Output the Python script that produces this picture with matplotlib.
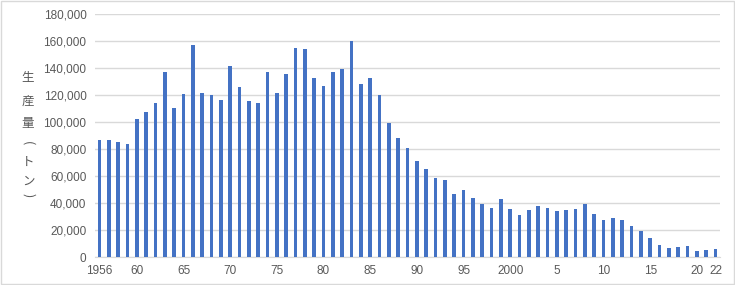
import matplotlib.pyplot as plt
from matplotlib import ticker
from matplotlib.patches import Rectangle

years = list(range(1956, 2023))
production = [
    87000, 87000, 85200, 83700, 102200, 107400, 114100, 137000, 110400, 120700,
    157000, 121500, 120000, 116300, 141500, 125900, 115600, 114100, 137000, 121500,
    135600, 154800, 154100, 132600, 126700, 137000, 139300, 160000, 128100, 132600,
    120000, 99300, 88100, 80700, 71100, 65200, 58500, 57000, 46700, 49600,
    43700, 39300, 36300, 43000, 35600, 31100, 34800, 37800, 36300, 34100,
    34800, 35600, 39300, 31900, 27400, 28900, 27400, 23000, 19300, 14100,
    8900, 6700, 7400, 8100, 4400, 5200, 5900,
]
tick_years = [1956, 1960, 1965, 1970, 1975, 1980, 1985, 1990, 1995, 2000,
              2005, 2010, 2015, 2020, 2022]
tick_labels = ["1956", "60", "65", "70", "75", "80", "85", "90", "95", "2000",
               "5", "10", "15", "20", "22"]
ylabel_chars = ["生", "産", "量", "(", "ト", "ン", ")"]

plt.rcParams['font.family'] = ['Liberation Sans', 'Noto Sans CJK JP', 'DejaVu Sans']

fig = plt.figure(figsize=(7.35, 2.85), dpi=100)
ax = fig.add_axes([0.129, 0.098, 0.851, 0.853])

ax.bar(years, production, width=0.4, color='#4472C4', zorder=3)

ax.set_xlim(1955.5, 2022.5)
ax.set_ylim(0, 180000)
ax.yaxis.set_major_locator(ticker.MultipleLocator(20000))
ax.yaxis.set_major_formatter(ticker.FuncFormatter(lambda v, p: f'{int(v):,}'))
ax.set_xticks(tick_years)
ax.set_xticklabels(tick_labels)

ax.grid(axis='y', color='#d9d9d9', linewidth=1, zorder=0)
for s in ['top', 'right', 'left']:
    ax.spines[s].set_visible(False)
ax.spines['bottom'].set_color('#d9d9d9')
ax.tick_params(length=0, labelsize=8.5, colors='#595959', pad=6)

# vertical y label, one character per line; brackets turned for vertical writing
ypix = [78, 101, 123, 143, 162, 181, 195]
for ch, yp in zip(ylabel_chars, ypix):
    rot = -90 if ch in "()" else 0
    fig.text(28 / 735, 1 - yp / 285, ch, ha='center', va='center', rotation=rot,
             fontsize=9, color='#595959', family=['Noto Sans CJK JP', 'DejaVu Sans'])

fig.patches.append(Rectangle((0.001, 0.002), 0.997, 0.995, transform=fig.transFigure,
                             fill=False, edgecolor='#d9d9d9', linewidth=1))

fig.savefig('out.png', dpi=100)
